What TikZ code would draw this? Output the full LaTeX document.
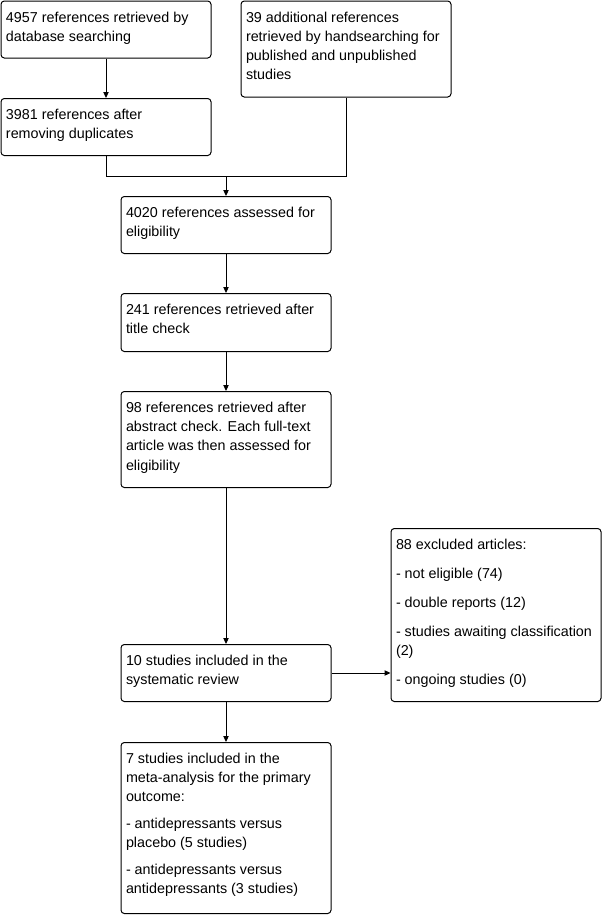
\documentclass[tikz,border=0pt]{standalone}
\usepackage{fontspec}
\setmainfont{Liberation Sans}
\usetikzlibrary{arrows.meta}
\newcommand{\boxtext}[2]{\parbox[t][#1][t]{150pt}{\raggedright #2}}

\begin{document}
\begin{tikzpicture}[
  x=0.75pt, y=-0.75pt,
  stpbox/.style={draw, line width=0.75pt, rounded corners=2.5pt,
    anchor=north west, inner xsep=3.75pt, inner ysep=8pt,
    font=\fontsize{10.75pt}{14.4pt}\selectfont},
  arw/.style={-{Triangle[length=4.5pt,width=4pt]}, line width=0.75pt},
  lnk/.style={line width=0.75pt},
]
\useasboundingbox (0,0) rectangle (601,915);
\node[stpbox] (s1) at (0.5,0.5)
  {\boxtext{26.75pt}{4957 references retrieved by\\ database searching}};
\node[stpbox] (s2) at (240.5,0.5)
  {\boxtext{56pt}{39 additional references\\ retrieved by handsearching for\\ published and unpublished\\ studies}};
\node[stpbox] (s3) at (0.5,98)
  {\boxtext{26.75pt}{3981 references after\\ removing duplicates}};
\node[stpbox] (s4) at (120.5,196)
  {\boxtext{26.75pt}{4020 references assessed for\\ eligibility}};
\node[stpbox] (s5) at (120.5,293)
  {\boxtext{27.5pt}{241 references retrieved after\\ title check}};
\node[stpbox] (s6) at (120.5,391)
  {\boxtext{56pt}{98 references retrieved after\\ abstract check. Each full-text\\ article was then assessed for\\ eligibility}};
\node[stpbox] (s7) at (120.5,644)
  {\boxtext{26.75pt}{10 studies included in the\\ systematic review}};
\node[stpbox] (s8) at (390.5,528)
  {\boxtext{113.75pt}{88 excluded articles:\\[7.25pt] - not eligible (74)\\[7.25pt] - double reports (12)\\[7.25pt] - studies awaiting classification\\ (2)\\[7.25pt] - ongoing studies (0)}};
\node[stpbox] (s9) at (120.5,742)
  {\boxtext{112.25pt}{7 studies included in the\\ meta-analysis for the primary\\ outcome:\\[5.5pt] - antidepressants versus\\ placebo (5 studies)\\[5.5pt] - antidepressants versus\\ antidepressants (3 studies)}};
\coordinate (merge) at (s4.north |- 0,176);
\draw[arw] (s1) -- (s3);
\draw[lnk] (s3.south) |- (merge);
\draw[lnk] (s2.south) |- (merge);
\draw[arw] (merge) -- (s4);
\draw[arw] (s4) -- (s5);
\draw[arw] (s5) -- (s6);
\draw[arw] (s6) -- (s7);
\draw[arw] (s7.east) -- (s7.east -| s8.west);
\draw[arw] (s7) -- (s9);
\end{tikzpicture}
\end{document}
